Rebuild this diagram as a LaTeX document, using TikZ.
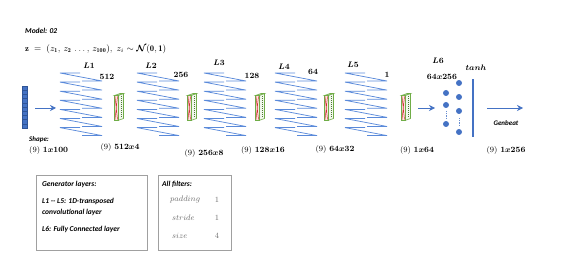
\documentclass[tikz,border=0pt]{standalone}
\usepackage{amsmath,bm}
\usepackage{fontspec}
\newfontfamily\carl{Carlito}
\usetikzlibrary{arrows.meta}
\definecolor{lblue}{RGB}{68,114,196}
\definecolor{dblue}{RGB}{47,85,151}
\definecolor{zblue}{RGB}{90,138,218}
\definecolor{fgreen}{RGB}{112,173,71}
\definecolor{fred}{RGB}{205,50,50}
\definecolor{bgray}{RGB}{160,160,160}
\definecolor{tgray}{RGB}{110,110,110}
\tikzset{
  lbl/.style={font=\fontsize{8}{10}\selectfont, inner sep=0pt},
  sanslbl/.style={font=\carl\bfseries\itshape\fontsize{7.5}{9}\selectfont, inner sep=0pt, anchor=west},
  lname/.style={font=\fontsize{8}{10}\selectfont\boldmath, inner sep=0pt},
  zz/.style={draw=zblue, line width=0.75pt},
  arr/.style={draw=lblue, line width=0.8pt, -{Stealth[length=6pt,width=6pt]}},
  neuron/.style={circle, fill=lblue, minimum size=6pt, inner sep=0pt},
  infobox/.style={draw=bgray, line width=0.7pt, inner sep=0pt},
  gtxt/.style={font=\fontsize{8}{10}\selectfont, text=tgray, inner sep=0pt},
  filterbox/.pic={
    \draw[fgreen, line width=0.6pt, fill=fgreen!10] (-1,-11.5) -- (4.5,-13.5) -- (4.5,11.5) -- (-1,13.5) -- cycle;
    \draw[fgreen, line width=0.6pt, fill=fgreen!25] (-4.5,-11.5) -- (-1,-11.5) -- (4.5,-13.5) -- (1,-13.5) -- cycle;
    \draw[fgreen, line width=0.6pt, fill=red!10] (-4.5,-11.5) rectangle (-1,13.5);
    \draw[fred, line width=0.5pt] (-4,-10.5) -- (-1.5,12.5) (-1.5,-10.5) -- (-4,12.5);
    \draw[fgreen!70!black, line width=0.4pt, dash pattern=on 1pt off 1pt] (2,-10.5) -- (2,10.5);
  }
}
\begin{document}
\begin{tikzpicture}[x=1pt,y=-1pt]
\useasboundingbox (0,0) rectangle (567,264);

% header
\node[sanslbl] (model) at (25,31) {Model: 02};
\node[lbl, anchor=west, font=\fontsize{8.6}{10}\selectfont] (formula) at (25,49)
  {$\mathbf{z}\;=\;(z_{\mathbf 1},\,z_{\mathbf 2}\,\ldots,\,z_{\mathbf{100}}),\;z_i\sim\boldsymbol{\mathcal N}(\mathbf 0,\mathbf 1)$};

% input vector
\foreach \i in {0,...,9}
  \draw[draw=dblue, fill=lblue, line width=0.4pt] (22,86+4.2*\i) rectangle ++(5,4.2);
\node[inner sep=0pt, minimum width=5pt, minimum height=42pt] (vec) at (24.5,107) {};
\coordinate (a0s) at (35,108);
\coordinate (a0e) at (56,108);
\draw[arr] (a0s) -- (a0e);

% transposed conv layers (zigzag stacks)
\foreach \x in {60,137,204,275,345}{
  \foreach \i in {0,...,6}{
    \draw[zz] (\x+20,73+9.1*\i) -- (\x,73+9.1*\i) -- (\x+42,81+9.1*\i) -- (\x+22,81+9.1*\i);
  }
}

% layer names and channel counts
\node[lname] (L1) at (89,66) {$L1$};
\node[lname] (c1) at (107,77) {$512$};
\node[lname] (L2) at (151,66) {$L2$};
\node[lname] (c2) at (181,75) {$256$};
\node[lname] (L3) at (219,63) {$L3$};
\node[lname] (c3) at (252,76) {$128$};
\node[lname] (L4) at (284,67) {$L4$};
\node[lname] (c4) at (313,72) {$64$};
\node[lname] (L5) at (353,65) {$L5$};
\node[lname] (c5) at (387,75) {$1$};
\node[lname] (L6) at (438,61) {$L6$};
\node[lname] (c6) at (442,77) {$64x256$};
\node[lname] (tanh) at (476,68) {$tanh$};

% filters
\foreach \x in {119,192,260,329,406}
  \pic at (\x,107) {filterbox};

% arrow to FC
\coordinate (a1s) at (418,108);
\coordinate (a1e) at (435,108);
\draw[arr] (a1s) -- (a1e);

% fully connected neurons
\node[neuron] (n11) at (446,93) {};
\node[neuron] (n12) at (446,105) {};
\node[neuron] (n13) at (446,124) {};
\node[neuron] (n21) at (459,83) {};
\node[neuron] (n22) at (459,97) {};
\node[neuron] (n23) at (459,111) {};
\node[neuron] (n24) at (459,132) {};
\draw[lblue!80, line width=0.6pt, dash pattern=on 1.2pt off 1pt] (446,111) -- (446,118);
\draw[lblue!80, line width=0.6pt, dash pattern=on 1.2pt off 1pt] (459,118) -- (459,125);

% tanh bar
\node[fill=lblue, inner sep=0pt, minimum width=2.2pt, minimum height=58pt] (bar) at (473,108) {};
\coordinate (a2s) at (487,108);
\coordinate (a2e) at (523,108);
\draw[arr] (a2s) -- (a2e);
\node[sanslbl, anchor=center, font=\carl\bfseries\itshape\fontsize{7}{9}\selectfont] (genbeat) at (506,123) {Genbeat};

% shape labels
\node[sanslbl, font=\carl\bfseries\itshape\fontsize{7}{9}\selectfont] (shape) at (29,140) {Shape:};
\node[lbl, anchor=west] (s0) at (29,151) {(9) {\boldmath$1x100$}};
\node[lbl] (s1) at (120,148) {(9) {\boldmath$512x4$}};
\node[lbl] (s2) at (204,154) {(9) {\boldmath$256x8$}};
\node[lbl] (s3) at (263,151) {(9) {\boldmath$128x16$}};
\node[lbl] (s4) at (335,150) {(9) {\boldmath$64x32$}};
\node[lbl] (s5) at (417,151) {(9) {\boldmath$1x64$}};
\node[lbl] (s6) at (506,151) {(9) {\boldmath$1x256$}};

% legend boxes
\draw[infobox] (36,175) rectangle (147,250);
\node[sanslbl] (g1) at (42,184) {Generator layers:};
\node[sanslbl] (g2) at (42,201) {L1 -- L5: 1D-transposed};
\node[sanslbl] (g3) at (42,212) {convolutional layer};
\node[sanslbl] (g4) at (42,229) {L6: Fully Connected layer};

\draw[infobox] (158,175) rectangle (231,250);
\node[sanslbl] (f0) at (162,184) {All filters:};
\node[gtxt, anchor=west] (fp) at (170,200) {$\color{tgray}padding$};
\node[gtxt] (fpv) at (217,200) {1};
\node[gtxt, anchor=west] (fs) at (172,218) {$\color{tgray}stride$};
\node[gtxt] (fsv) at (217,218) {1};
\node[gtxt, anchor=west] (fz) at (172,236) {$\color{tgray}size$};
\node[gtxt] (fzv) at (217,236) {4};
\end{tikzpicture}
\end{document}
